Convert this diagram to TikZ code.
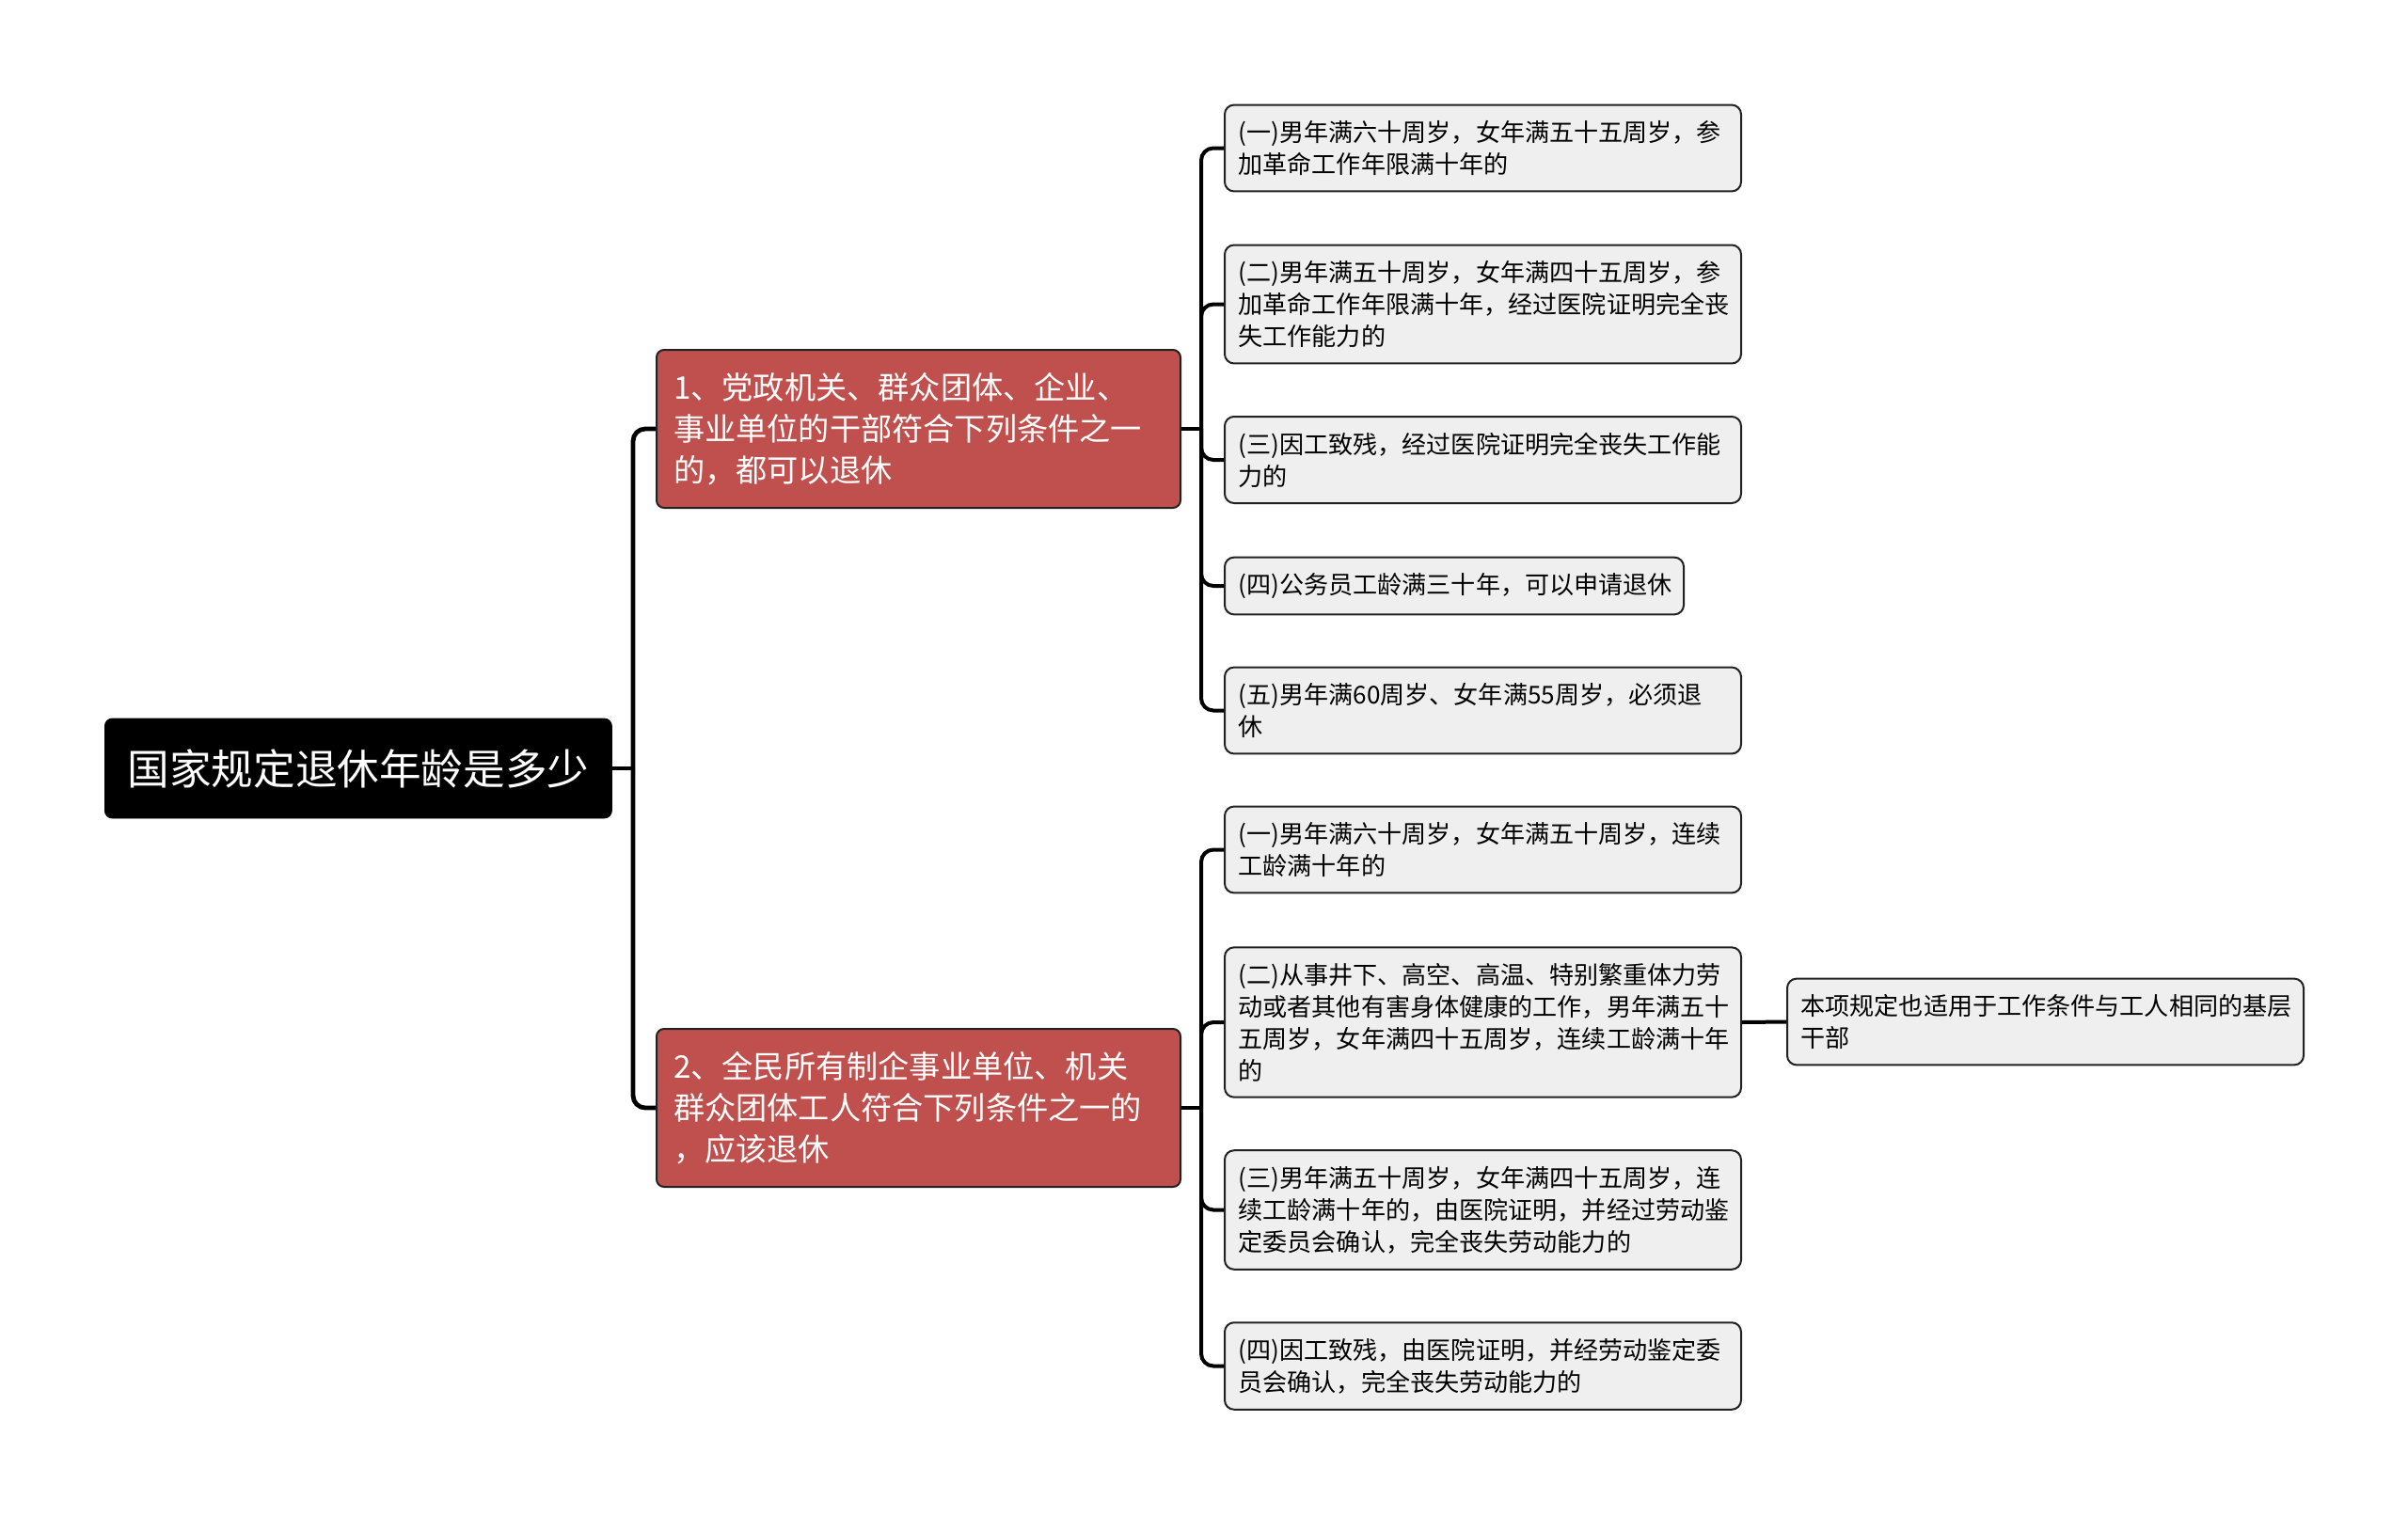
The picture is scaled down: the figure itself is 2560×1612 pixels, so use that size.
\documentclass[tikz,border=0pt]{standalone}
\usepackage{fontspec}
\setmainfont{Noto Sans CJK SC}
\definecolor{rtRed}{HTML}{C0504D}
\definecolor{rtGray}{HTML}{EFEFEF}
\definecolor{rtLine}{HTML}{222222}
\tikzset{rtRoot/.style={draw=black,fill=black,rounded corners=4pt,text=white,font=\fontsize{22.3}{28}\selectfont,minimum width=269.5pt,minimum height=53pt,inner sep=0pt,anchor=west},
 rtBranch/.style={draw=rtLine,line width=1pt,fill=rtRed,rounded corners=4pt,text=white,font=\fontsize{16.6}{22}\selectfont,text width=260.5pt,align=left,inner xsep=9pt,minimum height=84pt,anchor=west},
 rtLeaf/.style={draw=rtLine,line width=1pt,fill=rtGray,rounded corners=5pt,text=black,font=\fontsize{13.05}{17}\selectfont,text width=260pt,align=left,inner xsep=7.25pt,inner ysep=8.4pt,anchor=west},
 rtTrunk/.style={draw=black,line width=2.4pt,rounded corners=6.5pt},
 rtTwig/.style={draw=black,line width=2pt,rounded corners=6.5pt}}
\begin{document}
\begin{tikzpicture}[x=0.5pt,y=-0.5pt]
\useasboundingbox (0,0) rectangle (2560,1612);
\node[rtRoot] (root) at (111,817) {国家规定退休年龄是多少};
\node[rtBranch] (b1) at (697,456) {1、党政机关、群众团体、企业、\\事业单位的干部符合下列条件之一\\的，都可以退休};
\node[rtBranch] (b2) at (697,1178) {2、全民所有制企事业单位、机关\\群众团体工人符合下列条件之一的\\，应该退休};
% first group
\node[rtLeaf] (a1) at (1301,157.5) {(一)男年满六十周岁，女年满五十五周岁，参\\加革命工作年限满十年的};
\node[rtLeaf] (a2) at (1301,323.5) {(二)男年满五十周岁，女年满四十五周岁，参\\加革命工作年限满十年，经过医院证明完全丧\\失工作能力的};
\node[rtLeaf] (a3) at (1301,489) {(三)因工致残，经过医院证明完全丧失工作能\\力的};
\node[rtLeaf,text width=229.5pt] (a4) at (1301,623) {(四)公务员工龄满三十年，可以申请退休};
\node[rtLeaf] (a5) at (1301,755.5) {(五)男年满60周岁、女年满55周岁，必须退\\休};
% second group
\node[rtLeaf] (m1) at (1301,903.5) {(一)男年满六十周岁，女年满五十周岁，连续\\工龄满十年的};
\node[rtLeaf] (m2) at (1301,1087) {(二)从事井下、高空、高温、特别繁重体力劳\\动或者其他有害身体健康的工作，男年满五十\\五周岁，女年满四十五周岁，连续工龄满十年\\的};
\node[rtLeaf] (m3) at (1301,1286.5) {(三)男年满五十周岁，女年满四十五周岁，连\\续工龄满十年的，由医院证明，并经过劳动鉴\\定委员会确认，完全丧失劳动能力的};
\node[rtLeaf] (m4) at (1301,1452.5) {(四)因工致残，由医院证明，并经劳动鉴定委\\员会确认，完全丧失劳动能力的};
\node[rtLeaf] (sub) at (1899,1086.5) {本项规定也适用于工作条件与工人相同的基层\\干部};
% connectors
\coordinate (f0) at (673,817);
\coordinate (f1) at (1277,456);
\coordinate (f2) at (1277,1178);
\draw[rtTrunk] (root.east)--(f0);
\foreach \br in {b1,b2}{\draw[rtTrunk] (f0)|-(\br.west);}
\draw[rtTwig] (b1.east)--(f1);
\foreach \lf in {a1,a2,a3,a4,a5}{\draw[rtTwig] (f1)|-(\lf.west);}
\draw[rtTwig] (b2.east)--(f2);
\foreach \lf in {m1,m2,m3,m4}{\draw[rtTwig] (f2)|-(\lf.west);}
\draw[rtTwig] (m2.east)--(sub.west);
\end{tikzpicture}
\end{document}
